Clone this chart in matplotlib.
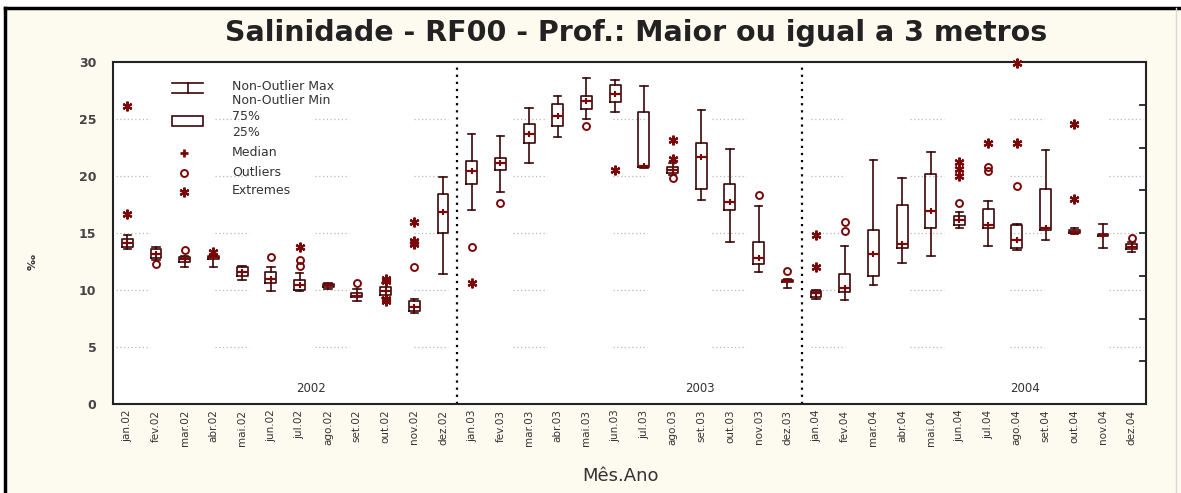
import matplotlib
matplotlib.use('Agg')
import matplotlib.pyplot as plt
import numpy as np

# categorias (mês.ano)
meses = ['jan', 'fev', 'mar', 'abr', 'mai', 'jun', 'jul', 'ago', 'set', 'out', 'nov', 'dez']
anos = ['02', '03', '04']
rotulos = [m + '.' + a for a in anos for m in meses]

# estatísticas (salinidade)
whislo = [13.6, 12.6, 12.0, 12.0, 10.9, 9.9, 9.9, 10.1, 9.0, 9.3, 8.0, 11.4,
          17.0, 18.6, 21.1, 23.4, 25.0, 25.6, 20.7, 20.1, 17.9, 14.2, 11.6, 10.2,
          9.2, 9.1, 10.4, 12.4, 13.0, 15.4, 13.9, 13.5, 14.4, 14.9, 13.7, 13.3]
q1 = [13.8, 12.8, 12.5, 12.7, 11.2, 10.6, 10.0, 10.3, 9.4, 9.6, 8.2, 15.0,
      19.3, 20.5, 22.9, 24.4, 25.9, 26.5, 20.8, 20.3, 18.9, 17.0, 12.3, 10.7,
      9.4, 9.8, 11.2, 13.7, 15.4, 15.7, 15.4, 13.7, 15.3, 15.0, 14.7, 13.6]
mediana = [14.1, 13.2, 12.7, 12.9, 11.6, 11.0, 10.4, 10.4, 9.5, 9.9, 8.5, 16.8,
           20.4, 21.1, 23.7, 25.3, 26.6, 27.2, 20.9, 20.5, 21.7, 17.7, 12.8, 10.8,
           9.7, 10.2, 13.2, 14.0, 16.9, 16.1, 15.7, 14.4, 15.4, 15.1, 14.8, 13.8]
q3 = [14.5, 13.6, 12.9, 13.0, 12.0, 11.6, 10.9, 10.5, 9.7, 10.3, 9.0, 18.4,
      21.3, 21.6, 24.6, 26.3, 27.0, 28.0, 25.6, 20.8, 22.9, 19.3, 14.2, 10.9,
      9.9, 11.4, 15.3, 17.5, 20.2, 16.5, 17.1, 15.7, 18.9, 15.3, 14.9, 14.0]
whishi = [14.8, 13.8, 13.0, 13.1, 12.1, 12.0, 11.5, 10.6, 10.1, 10.6, 9.2, 19.9,
          23.7, 23.5, 26.0, 27.0, 28.6, 28.4, 27.9, 21.1, 25.8, 22.4, 17.4, 11.0,
          10.0, 13.9, 21.4, 19.8, 22.1, 16.8, 17.8, 15.8, 22.3, 15.4, 15.8, 14.2]
outliers = [[], [12.3], [13.5], [], [], [12.9], [12.1, 12.6], [], [10.6], [], [12.0], [],
            [13.8], [17.6], [], [], [24.4], [], [], [19.8], [], [], [18.3], [11.7],
            [], [15.2, 16.0], [], [], [], [17.6], [20.4, 20.8], [19.1], [], [], [], [14.6]]
extremos = [[16.7, 26.1], [], [], [13.3], [], [], [13.8], [], [], [9.0, 9.2, 10.8, 11.0], [14.0, 14.3, 16.0], [],
            [10.6], [], [], [], [], [20.5], [], [21.5, 23.2], [], [], [], [],
            [12.0, 14.8], [], [], [], [], [20.0, 20.6, 21.2], [22.9], [22.9, 29.9], [], [18.0, 24.6], [], []]

cor = '#7a0808'
cor_linha = '#3c0707'
fundo = '#fdfaf0'
W, H = 1181, 493

fig = plt.figure(figsize=(W / 100, H / 100), dpi=100)
fig.patch.set_facecolor('white')
# área creme com moldura
fig.patches.append(plt.Rectangle((5 / W, 0), (W - 5) / W, 1 - 8 / H, transform=fig.transFigure,
                                 facecolor=fundo, edgecolor='none', zorder=-10))
fig.add_artist(plt.Line2D([5 / W, 5 / W], [0, 1 - 8 / H], color='black', lw=2.5))
fig.add_artist(plt.Line2D([5 / W, 1], [1 - 8 / H, 1 - 8 / H], color='black', lw=2.5))
fig.add_artist(plt.Line2D([1176 / W, 1176 / W], [0, 1 - 8 / H], color='#d8d8d8', lw=1))

L, R, T, B = 113, 1146, 62, 404
ax = fig.add_axes([L / W, 1 - B / H, (R - L) / W, (B - T) / H])
ax.set_facecolor('white')

pos = np.arange(len(rotulos))

# linhas de grade pontilhadas (só em faixas)
for c in np.arange(133, 1140, 99.3):
    for yv in [5, 10, 15, 20, 25]:
        ax.axhline(yv, xmin=(c - 17 - L) / (R - L), xmax=(c + 17 - L) / (R - L),
                   ls=(0, (1, 2)), color='#b8b8b8', lw=0.9, zorder=1)

# separadores de ano
for xv in [11.5, 23.5]:
    ax.axvline(xv, ls=(0, (1, 2.2)), color='black', lw=1.6, zorder=2)

stats = []
for i in range(len(rotulos)):
    stats.append({'med': mediana[i], 'q1': q1[i], 'q3': q3[i],
                  'whislo': whislo[i], 'whishi': whishi[i], 'fliers': []})

ax.bxp(stats, positions=pos, widths=0.38, capwidths=0.26, showfliers=False,
       boxprops=dict(color=cor_linha, lw=1.2),
       whiskerprops=dict(color=cor_linha, lw=1.2),
       capprops=dict(color=cor_linha, lw=1.2),
       medianprops=dict(color=cor, lw=1.6),
       manage_ticks=False, zorder=3)
ax.plot(pos, mediana, ls='none', marker='|', ms=5, mew=1.5, color=cor, zorder=4)

for i in range(len(rotulos)):
    if outliers[i]:
        ax.plot([pos[i]] * len(outliers[i]), outliers[i], ls='none', marker='o', ms=5,
                mfc='none', mec=cor, mew=1.4, zorder=4)
    if extremos[i]:
        ax.plot([pos[i]] * len(extremos[i]), extremos[i], ls='none', marker=(6, 2, 0), ms=7,
                mec=cor, mew=1.6, zorder=4, clip_on=False)

ax.set_xlim(-0.5, 35.5)
ax.set_ylim(0, 30)
ax.set_yticks([0, 5, 10, 15, 20, 25, 30])
ax.set_xticks(pos)
ax.set_xticklabels(rotulos, rotation=90, fontsize=7.5, color='#333333')
ax.tick_params(axis='x', length=0, pad=4)
ax.tick_params(axis='y', direction='in', length=0, pad=12, labelsize=9, labelcolor='#444444')
for lab in ax.get_yticklabels():
    lab.set_fontweight('bold')
for s in ax.spines.values():
    s.set_linewidth(1.5)
    s.set_color('#222222')

# marcas sem rótulo no eixo direito (para dentro)
for yv in np.arange(3.75, 30, 3.75):
    ax.axhline(yv, xmin=0.994, xmax=1, color='#222222', lw=1.3, zorder=5)

# anos dentro do gráfico
for xt, txt in [(6.4, '2002'), (19.95, '2003'), (31.3, '2004')]:
    ax.text(xt, 1.4, txt, ha='center', va='center', fontsize=8.5, color='#333333')


# legenda desenhada à mão (coordenadas em pixels -> eixos)
def px(x, y):
    return (x - L) / (R - L), (B - y) / (B - T)


tr = ax.transAxes
a, b = px(172, 83)
c, d = px(203, 93)
ax.plot([a, c], [b, b], color=cor_linha, lw=1.2, transform=tr, zorder=5)
ax.plot([a, c], [d, d], color=cor_linha, lw=1.2, transform=tr, zorder=5)
m = px(188, 88)[0]
ax.plot([m, m], [b, d], color=cor_linha, lw=1.2, transform=tr, zorder=5)
a, b = px(172, 116)
c, d = px(203, 126)
ax.add_patch(plt.Rectangle((a, d), c - a, b - d, transform=tr, fill=False,
                           edgecolor=cor_linha, lw=1.2, zorder=5))
ax.plot(*px(184, 153), marker='+', ms=6, mew=2, color=cor, transform=tr, zorder=5)
ax.plot(*px(184, 173), marker='o', ms=5, mfc='none', mec=cor, mew=1.4, transform=tr, zorder=5)
ax.plot(*px(184, 192), marker=(6, 2, 0), ms=7, mec=cor, mew=1.6, transform=tr, zorder=5)
legenda = [('Non-Outlier Max', 86), ('Non-Outlier Min', 101), ('75%', 117), ('25%', 132),
           ('Median', 152), ('Outliers', 172), ('Extremes', 191)]
for txt, yy in legenda:
    ax.text(*px(232, yy), txt, transform=tr, ha='left', va='center', fontsize=9,
            color='#333333', zorder=5)

fig.text(636 / W, 1 - 33 / H, 'Salinidade - RF00 - Prof.: Maior ou igual a 3 metros',
         ha='center', va='center', fontsize=20.5, fontweight='bold', color='#222222')
fig.text(620 / W, 1 - 476 / H, 'Mês.Ano', ha='center', va='center', fontsize=13, color='#333333')
fig.text(33 / W, 1 - 262 / H, '‰', ha='center', va='center', fontsize=8, fontweight='bold',
         rotation=90, color='#333333')

fig.savefig('out.png', dpi=100, facecolor=fig.get_facecolor())
